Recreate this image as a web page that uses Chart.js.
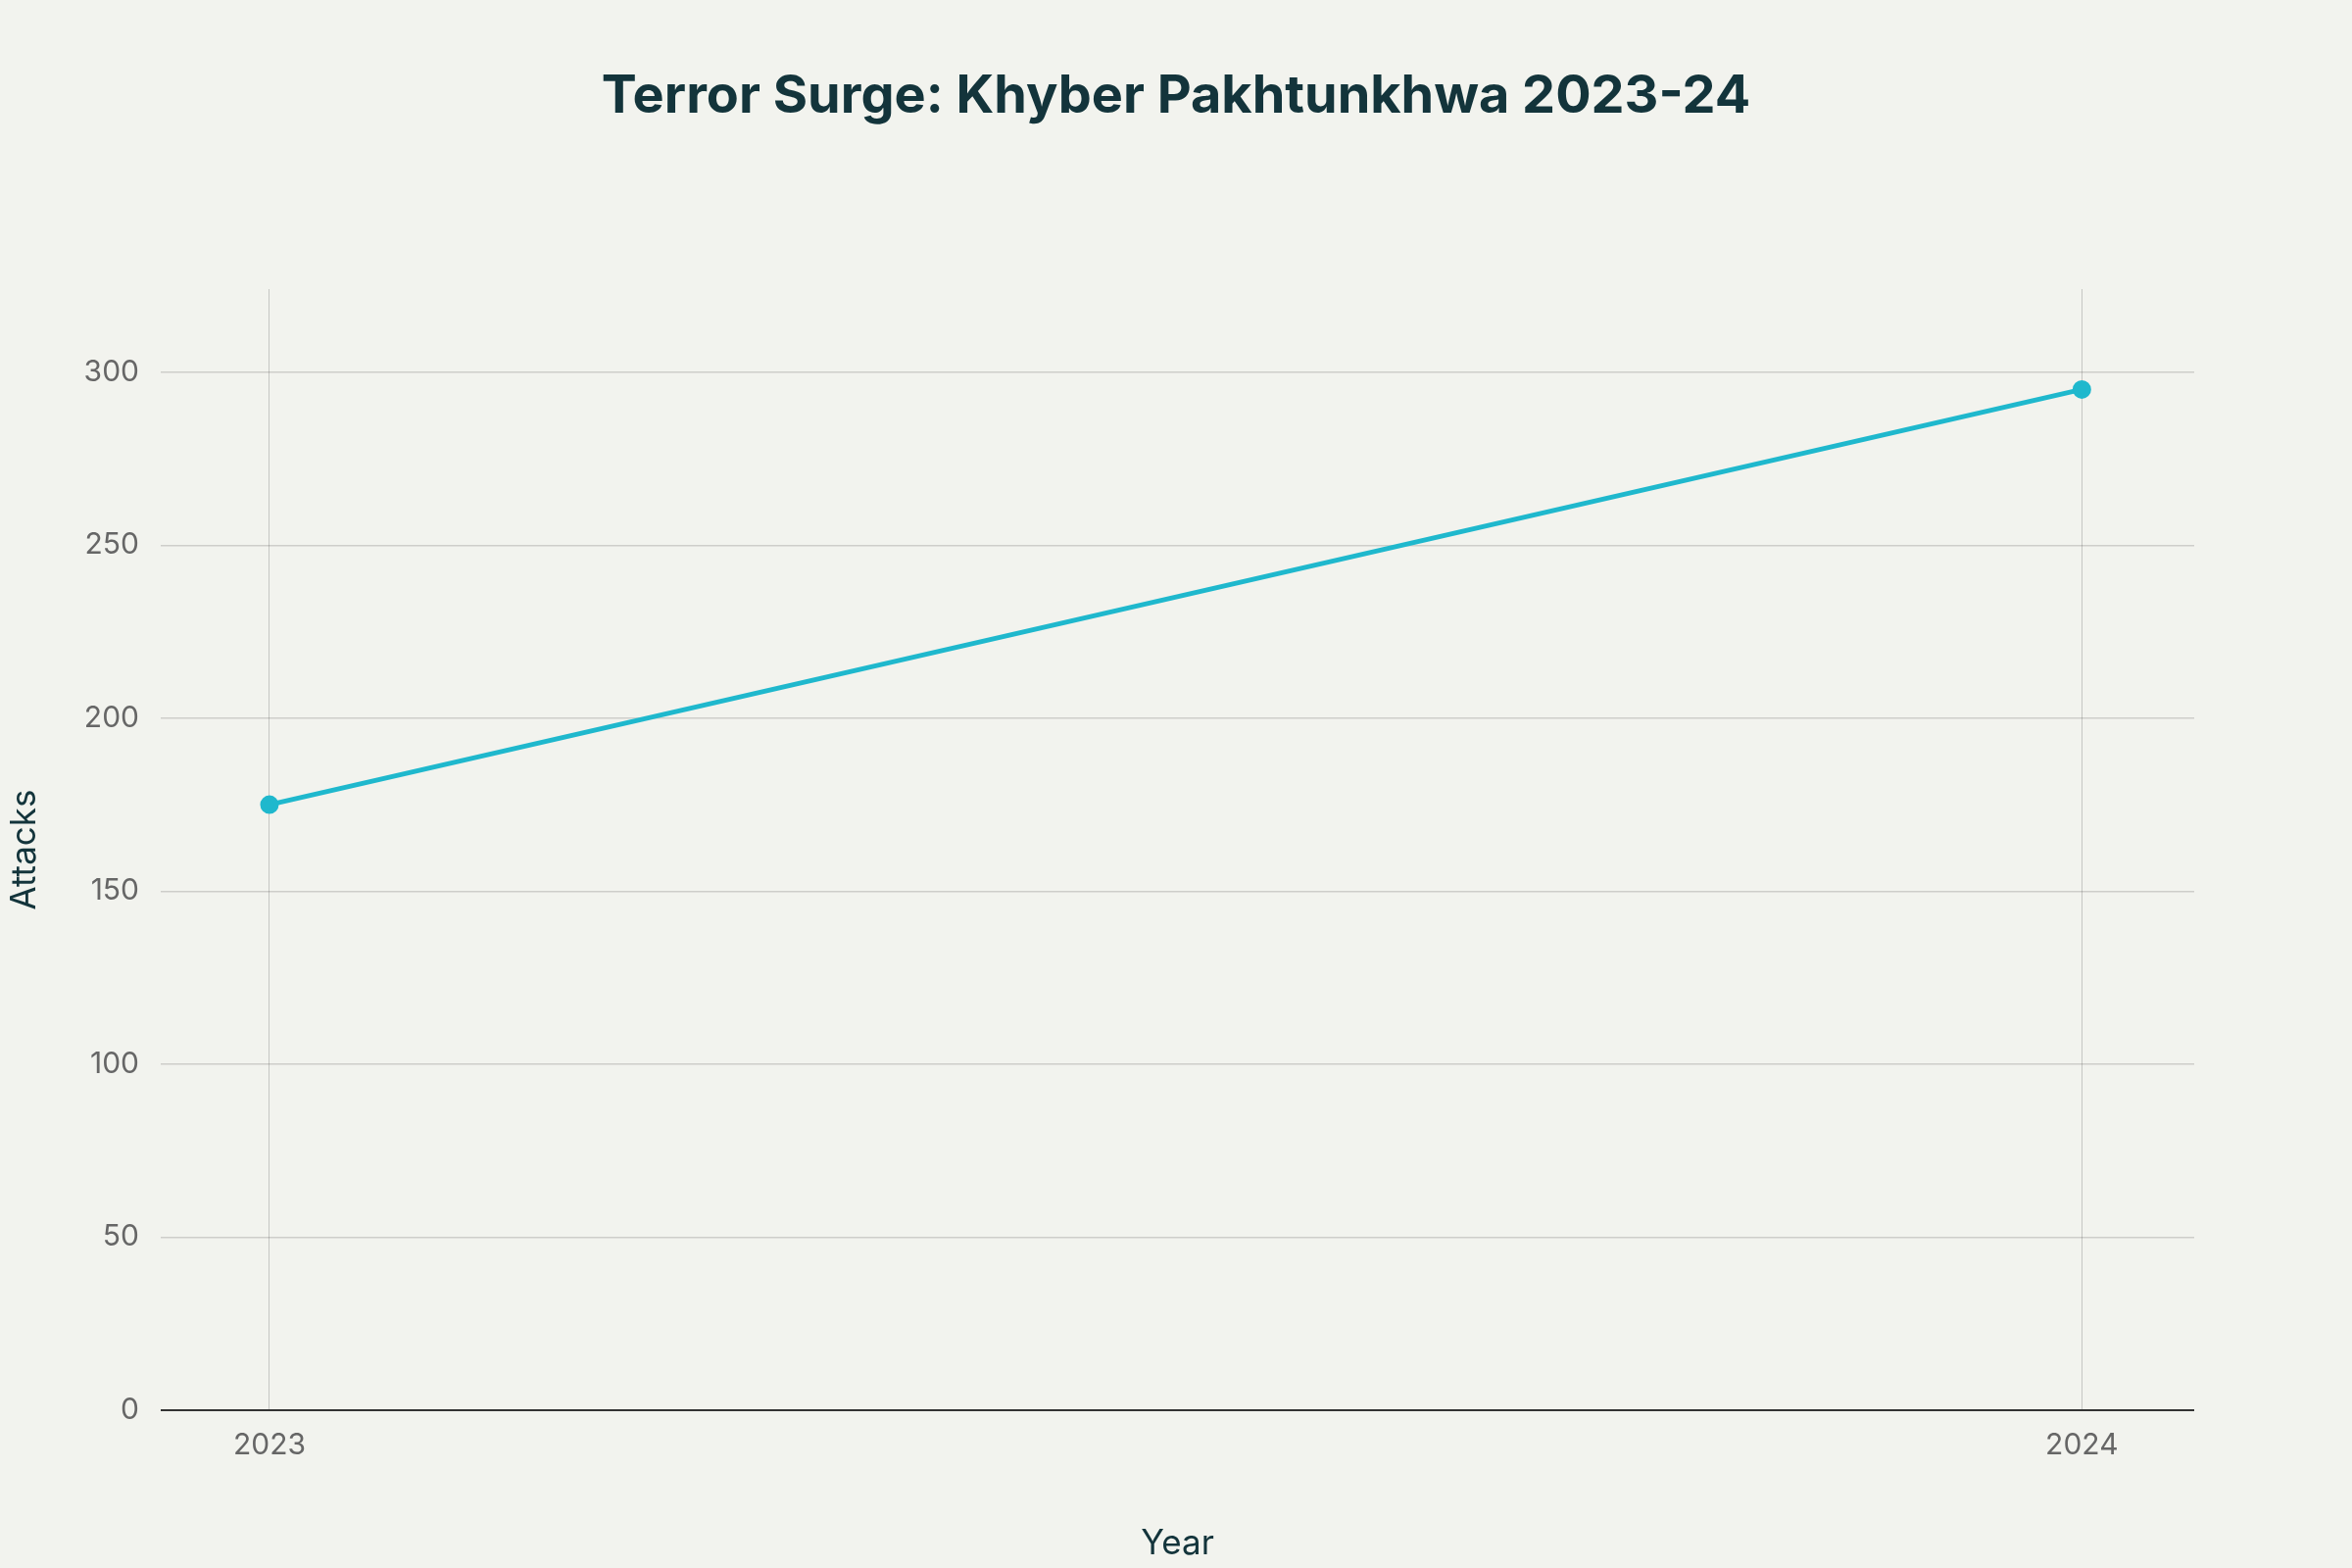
<!DOCTYPE html>
<html><head><meta charset="utf-8">
<script src="https://cdn.jsdelivr.net/npm/chart.js@4"></script>
<style>html,body{margin:0;background:#f2f3ee}#w{width:2400px;height:1600px}</style>
</head><body><div id="w"><canvas id="c"></canvas></div>
<script>
const years = [2023, 2024];
const attacks = [175, 295];
const yTicks = [0, 50, 100, 150, 200, 250, 300];
const titleText = 'Terror Surge: Khyber Pakhtunkhwa 2023-24';
const font = 'Inter, "Noto Sans", sans-serif';
const titlePlugin = { id:'tp', afterDraw(ch){ const c=ch.ctx; c.save(); c.font='bold 54px '+font; c.fillStyle='#13343b'; c.textAlign='center'; c.textBaseline='middle'; c.fillText(titleText, ch.width/2, 99); c.restore(); } };
new Chart(document.getElementById('c'), {
  type: 'line',
  data: { datasets: [{ data: years.map((y,i)=>({x:y,y:attacks[i]})), borderColor:'#1fb8cd', backgroundColor:'#1fb8cd', borderWidth:5, pointRadius:7, pointHoverRadius:7, tension:0 }] },
  plugins:[titlePlugin],
  options: {
    responsive:true, maintainAspectRatio:false, animation:false,
    layout:{padding:{left:0,right:161,bottom:0,top:295}},
    plugins:{legend:{display:false},tooltip:{enabled:false},title:{display:false}},
    scales:{
      x:{type:'linear',min:2022.94,max:2024.062,
        afterBuildTicks:s=>{s.ticks=years.map(v=>({value:v}));},
        afterFit:s=>{s.height=161;},
        ticks:{callback:v=>String(v),color:'#666',font:{family:font,size:30},padding:18},
        grid:{color:'rgba(0,0,0,0.18)',drawTicks:false},border:{display:false},
        title:{display:true,text:'Year',color:'#13343b',font:{family:font,size:35},padding:{top:18}}},
      y:{min:0,max:324,
        afterBuildTicks:s=>{s.ticks=yTicks.map(v=>({value:v}));},
        ticks:{color:'#666',font:{family:font,size:30},padding:22},
        afterFit:s=>{s.width=164;},
        grid:{color:c=>c.tick&&c.tick.value===0?'#333':'rgba(0,0,0,0.15)',lineWidth:c=>c.tick&&c.tick.value===0?2:1.5,drawTicks:false},border:{display:false},
        title:{display:true,text:'Attacks',color:'#13343b',font:{family:font,size:35},padding:{bottom:0}}}
    }
  }
});
</script></body></html>
